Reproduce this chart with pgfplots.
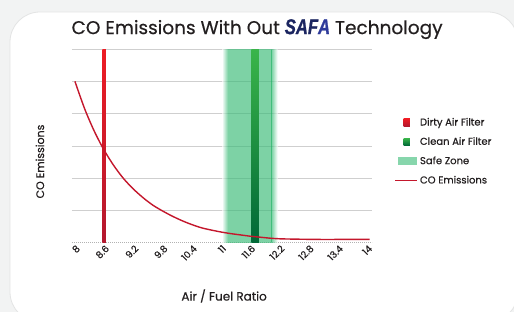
\documentclass[border=0pt]{standalone}
\usepackage{pgfplots}
\pgfplotsset{compat=1.18}
\usepackage{fontspec}
\setmainfont{Poppins}[FakeBold=0.45]
\newfontfamily\logofont{Liberation Sans}[FakeBold=1.2]
\definecolor{bgout}{HTML}{F2F3F3}
\definecolor{cardborder}{HTML}{E3E4E4}
\definecolor{gridc}{HTML}{CFCFCF}
\definecolor{curvec}{HTML}{C4172C}
\definecolor{redtop}{HTML}{ED1C24}
\definecolor{redbot}{HTML}{B3182E}
\definecolor{greentop}{HTML}{3AB54A}
\definecolor{greenbot}{HTML}{006837}
\definecolor{safec}{HTML}{38BB76}
\definecolor{textc}{HTML}{231F20}
\definecolor{safanavy}{HTML}{1B2560}
\definecolor{safablue}{HTML}{2E3A9A}
\begin{document}
\begin{tikzpicture}
\useasboundingbox (0,0) rectangle (514pt,312pt);
\clip (0,0) rectangle (514pt,312pt);
\fill[bgout] (0,0) rectangle (514pt,312pt);
\draw[cardborder, fill=white, line width=0.8pt, rounded corners=30pt] (10pt,-10pt) rectangle (518pt,300pt);
\begin{axis}[
  at={(72pt,69pt)}, anchor=south west,
  scale only axis, width=300pt, height=194pt,
  xmin=7.94, xmax=14.1, ymin=0, ymax=6,
  axis line style={draw=none},
  major tick length=0pt,
  ytick={1,2,3,4,5,6}, yticklabels={},
  ymajorgrids, grid style={gridc, line width=0.8pt},
  xtick={8,8.6,9.2,9.8,10.4,11,11.6,12.2,12.8,13.4,14},
  xticklabels={8,8.6,9.2,9.8,10.4,11,11.6,12.2,12.8,13.4,14},
  xticklabel style={rotate=45, anchor=east, font=\fontsize{9.5}{10}\selectfont, text=textc, xshift=3pt, yshift=-5pt},
  xlabel={Air / Fuel Ratio},
  ylabel={CO Emissions},
  every axis x label/.style={at={(axis description cs:0.507,-0.273)}, anchor=center, font=\fontsize{12}{14}\selectfont, text=textc},
  every axis y label/.style={at={(axis description cs:-0.107,0.42)}, rotate=90, anchor=center, font=\fontsize{11}{13}\selectfont, text=textc},
  title={CO Emissions With Out {\logofont\bfseries\itshape\scalebox{0.9}[1.15]{\color{safanavy}SAF\color{safablue}A}} Technology},
  title style={at={(axis description cs:0.617,1.046)}, anchor=base, font=\fontsize{18.5}{20}\selectfont, text=textc},
  legend style={at={(axis description cs:1.075,0.472)}, anchor=west, draw=none, fill=none,
    font=\fontsize{10}{12}\selectfont, text=textc, row sep=6.2pt, inner sep=0pt},
  legend cell align=left,
  clip=false,
]
% baseline
\addplot[forget plot, gray!60, densely dotted, line width=1pt] coordinates {(7.94,0) (14.1,0)};
% safe zone
\addplot[forget plot, draw=none, left color=white, right color=safec, fill opacity=0.65] coordinates {(11.02,6) (11.14,6)} \closedcycle;
\addplot[forget plot, draw=none, fill=safec, fill opacity=0.65] coordinates {(11.14,6) (12.04,6)} \closedcycle;
\addplot[forget plot, draw=none, left color=safec, right color=white, fill opacity=0.65] coordinates {(12.04,6) (12.16,6)} \closedcycle;
% bars
\addplot[draw=none, top color=redtop, bottom color=redbot,
  legend image code/.code={\fill[redtop] (0.14cm,-0.13cm) rectangle (0.36cm,0.13cm);}]
  coordinates {(8.565,6) (8.635,6)} \closedcycle;
\addlegendentry{Dirty Air Filter}
\addplot[draw=none, top color=greentop, bottom color=greenbot,
  legend image code/.code={\shade[top color=greentop, bottom color=greenbot] (0.14cm,-0.13cm) rectangle (0.36cm,0.13cm);}]
  coordinates {(11.625,6) (11.775,6)} \closedcycle;
\addlegendentry{Clean Air Filter}
\addplot[draw=none, fill=none,
  legend image code/.code={\fill[safec, fill opacity=0.6] (-0.05cm,-0.15cm) rectangle (0.62cm,0.15cm);}]
  coordinates {(11.5,6)};
\addlegendentry{Safe Zone}
% curve
\addplot[curvec, line width=1.4pt, smooth,
  legend image code/.code={\draw[curvec, line width=1.4pt] (-0.15cm,0cm) -- (0.62cm,0cm);}]
  coordinates {
  (8.0,5.00) (8.2,4.15) (8.4,3.45) (8.6,2.87) (8.8,2.39) (9.0,1.99) (9.2,1.67)
  (9.4,1.40) (9.6,1.17) (9.8,0.99) (10.0,0.83) (10.2,0.69) (10.4,0.57) (10.6,0.47)
  (10.8,0.40) (11.0,0.34) (11.2,0.29) (11.4,0.25) (11.6,0.21) (11.8,0.18) (12.0,0.15)
  (12.2,0.13) (12.5,0.12) (13.0,0.11) (13.5,0.11) (14.05,0.11)};
\addlegendentry{CO Emissions}
\end{axis}
\end{tikzpicture}
\end{document}
